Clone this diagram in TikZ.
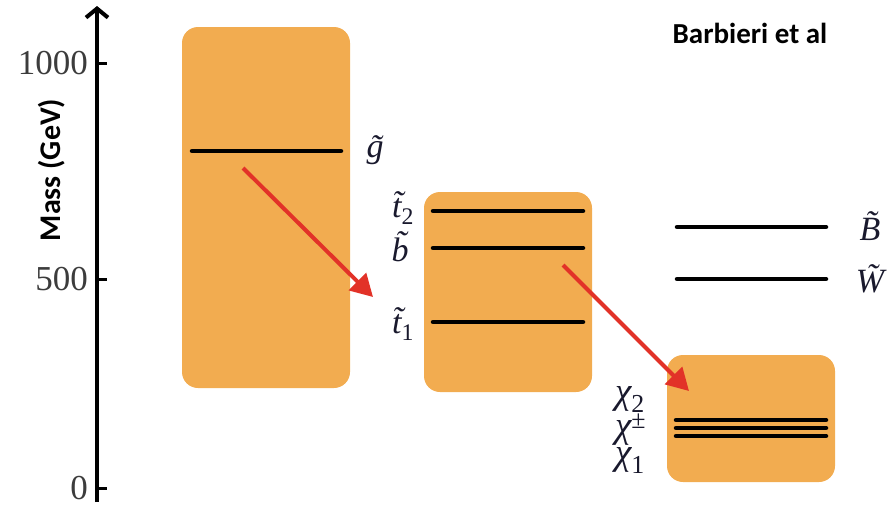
\documentclass[tikz,border=0pt]{standalone}
\usepackage{fontspec}
\setmainfont{Liberation Serif}
\newfontfamily\labelsans{Carlito}
\usetikzlibrary{arrows.meta}
\definecolor{band}{RGB}{242,172,80}
\definecolor{decay}{RGB}{226,50,40}
\definecolor{ticktext}{RGB}{60,60,60}
\definecolor{particle}{RGB}{25,25,45}
\newcommand{\sub}[1]{\textsubscript{\upshape #1}}
\begin{document}
\begin{tikzpicture}[x=1pt,y=-1pt,
  bandbox/.style={fill=band,rounded corners=16pt},
  level/.style={line width=4.5pt,line cap=round},
  decayarrow/.style={draw=decay,line width=4pt,-{Triangle[length=22pt,width=24pt]}},
  ticklabel/.style={anchor=east,font=\fontsize{35}{35}\selectfont,text=ticktext,inner sep=0pt},
  partlabel/.style={font=\itshape\fontsize{34}{34}\selectfont,text=particle,inner sep=0pt},
  chilabel/.style={font=\itshape\fontsize{37}{27.5}\selectfont,text=particle,inner sep=0pt,anchor=west,align=left}
]
\useasboundingbox (0,0) rectangle (892,506);

% mass axis
\draw[line width=4pt,-{Straight Barb[length=9pt,width=22pt,line width=4pt]}] (97,502) -- (97,6);
\foreach \yy/\lab in {63/1000,279/500,488/0}{
  \draw[line width=3pt] (97,\yy) -- (107,\yy);
  \node[ticklabel] at (88,\yy) {\lab};
}
\node[rotate=90,font=\labelsans\bfseries\fontsize{30}{30}\selectfont] (axislabel) at (52,170) {Mass (GeV)};

% coloured mass bands
\fill[bandbox] (182,27) rectangle (350,388);
\fill[bandbox] (424,192) rectangle (592,392);
\fill[bandbox] (667,355) rectangle (835,482);

% gluino
\draw[level] (192,151) -- (341,151);
\node[partlabel] (gl) at (375,150) {\~g};

% squarks
\draw[level] (433,211) -- (583,211);
\draw[level] (433,248) -- (583,248);
\draw[level] (433,322) -- (583,322);
\node[partlabel] (t2) at (403,208) {\~t\sub{2}};
\node[partlabel] (sb) at (400,247) {\~b};
\node[partlabel] (t1) at (403,324) {\~t\sub{1}};

% electroweakinos: three nearly degenerate levels, labelled as one stack
\draw[level] (676,420) -- (826,420);
\draw[level] (676,428) -- (826,428);
\draw[level] (676,436) -- (826,436);
\node[chilabel] (chis) at (615,430) {χ\sub{2}\\χ\textsuperscript{\upshape ±}\\χ\sub{1}};

% bino and wino
\draw[level] (677,227) -- (826,227);
\draw[level] (677,279) -- (826,279);
\node[partlabel] (bino) at (870,226) {\~B};
\node[partlabel] (wino) at (870,279) {\~W};

% decay chain
\coordinate (d1s) at (243,168);
\coordinate (d1e) at (373,297);
\coordinate (d2s) at (563,265);
\coordinate (d2e) at (689,391);
\draw[decayarrow] (d1s) -- (d1e);
\draw[decayarrow] (d2s) -- (d2e);

% reference tag
\node[font=\labelsans\bfseries\fontsize{29}{29}\selectfont] (ref) at (750,33) {Barbieri et al};
\end{tikzpicture}
\end{document}
